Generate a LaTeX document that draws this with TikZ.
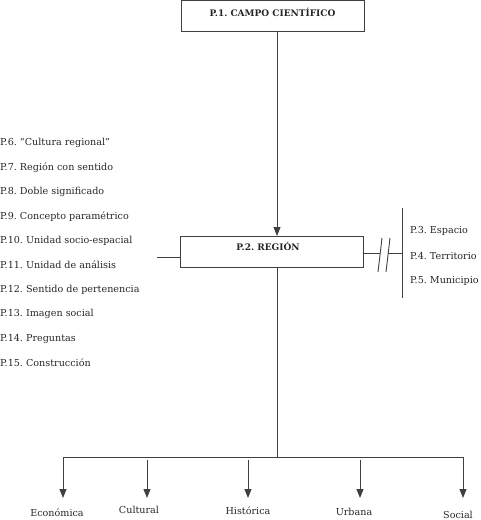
\documentclass[tikz,border=0pt]{standalone}
\usepackage{fontspec}
\setmainfont{DejaVu Serif}
\usetikzlibrary{arrows.meta}
\begin{document}
\frenchspacing
\begin{tikzpicture}[x=1pt,y=-1pt,
  line/.style={draw=black!75, line width=0.9pt},
  arr/.style={line, -{Triangle[length=9pt,width=7pt]}},
  box/.style={draw=black!75, line width=1pt, minimum height=31pt, inner sep=0pt},
  item/.style={anchor=west, inner sep=0pt, font=\frenchspacing\fontsize{9.6}{11}\selectfont, text=black!85},
  leaf/.style={anchor=center, inner sep=0pt, font=\fontsize{9.6}{11}\selectfont, text=black!85},
  head/.style={font=\frenchspacing\bfseries\fontsize{9}{11}\selectfont, text=black!85}]
\useasboundingbox (0,0) rectangle (481,520);
\node[box, minimum width=183pt] (p1) at (272.5,15.5) {};
\node[head] (p1t) at (272.5,12) {P.1. CAMPO CIENTÍFICO};
\node[box, minimum width=183pt] (p2) at (271.5,251.5) {};
\node[head] (p2t) at (268,246) {P.2. REGIÓN};
% top arrow
\coordinate (a1) at (277,31);
\coordinate (a2) at (277,236);
\draw[arr] (a1) -- (a2);
% left stub
\coordinate (l1) at (157,257);
\coordinate (l2) at (180,257);
\draw[line] (l1) -- (l2);
% right connector with break
\coordinate (r0) at (363,253);
\coordinate (r1) at (380,253);
\coordinate (r2) at (388,253);
\coordinate (r3) at (402,253);
\draw[line] (r0) -- (r1);
\draw[line] (r2) -- (r3);
\coordinate (s1a) at (378,272); \coordinate (s1b) at (382,238);
\coordinate (s2a) at (386,272); \coordinate (s2b) at (390,238);
\draw[line] (s1a) -- (s1b);
\draw[line] (s2a) -- (s2b);
\coordinate (v1) at (402,208);
\coordinate (v2) at (402,298);
\draw[line] (v1) -- (v2);
% right list
\node[item] (p3) at (410,231) {P.3. Espacio};
\node[item] (p4) at (410,256) {P.4. Territorio};
\node[item] (p5) at (410,281) {P.5. Municipio};
% left list
\node[item] (p6) at (0,143) {P.6. “Cultura regional”};
\node[item] (p7) at (0,167.4) {P.7. Región con sentido};
\node[item] (p8) at (0,191.9) {P.8. Doble significado};
\node[item] (p9) at (0,216.3) {P.9. Concepto paramétrico};
\node[item] (p10) at (0,240.8) {P.10. Unidad socio-espacial};
\node[item] (p11) at (0,265.2) {P.11. Unidad de análisis};
\node[item] (p12) at (0,289.7) {P.12. Sentido de pertenencia};
\node[item] (p13) at (0,314.1) {P.13. Imagen social};
\node[item] (p14) at (0,338.6) {P.14. Preguntas};
\node[item] (p15) at (0,363) {P.15. Construcción};
% bottom tree
\coordinate (b0) at (277,267);
\coordinate (b1) at (277,457);
\draw[line] (b0) -- (b1);
\coordinate (hL) at (63,457);
\coordinate (hR) at (463,457);
\draw[line] (hL) -- (hR);
\node[leaf] (c1) at (57,513) {Económica};
\node[leaf] (c2) at (139,510) {Cultural};
\node[leaf] (c3) at (248,511) {Histórica};
\node[leaf] (c4) at (354,512) {Urbana};
\node[leaf] (c5) at (458,515) {Social};
\coordinate (t1) at (63,457); \coordinate (e1) at (63,498);
\coordinate (t2) at (147,460); \coordinate (e2) at (147,498);
\coordinate (t3) at (248,460); \coordinate (e3) at (248,498);
\coordinate (t4) at (360,460); \coordinate (e4) at (360,498);
\coordinate (t5) at (463,457); \coordinate (e5) at (463,498);
\draw[arr] (t1) -- (e1);
\draw[arr] (t2) -- (e2);
\draw[arr] (t3) -- (e3);
\draw[arr] (t4) -- (e4);
\draw[arr] (t5) -- (e5);
\end{tikzpicture}
\end{document}
